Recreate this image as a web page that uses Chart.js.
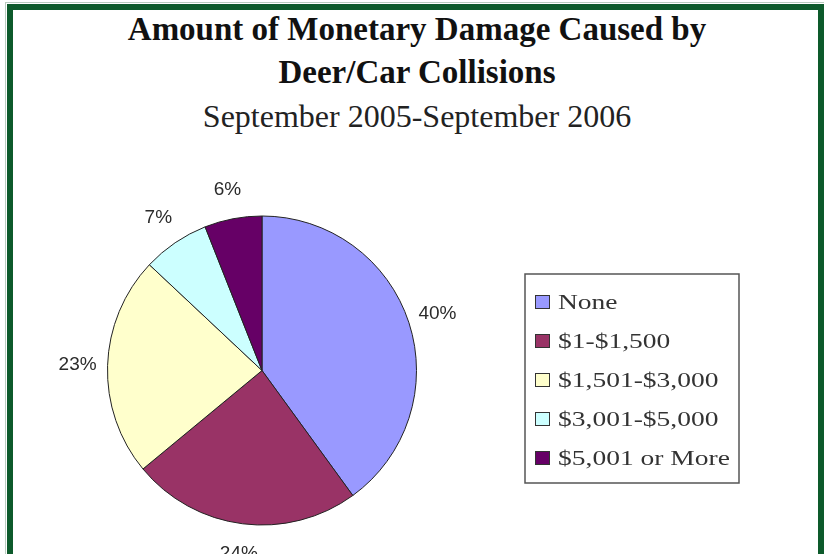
<!DOCTYPE html>
<html>
<head>
<meta charset="utf-8">
<title>Monetary Damage Caused by Deer/Car Collisions</title>
<script src="https://cdn.jsdelivr.net/npm/chart.js@4.4.1/dist/chart.umd.min.js"></script>
<style>
  html, body { margin: 0; padding: 0; background: #fff; overflow: hidden; }
  .wrap { position: relative; width: 824px; height: 554px; overflow: hidden; }
  .frame {
    position: absolute; left: 7px; top: 4px; width: 805px; height: 620px;
    border: 6px solid #0d5a2b; border-bottom: none;
    outline: 1px solid #b9ccbf; outline-offset: 1px;
  }
  .title {
    position: absolute; left: 10px; width: 814px; height: 43px; line-height: 43px;
    text-align: center; white-space: nowrap; color: #111;
    font-family: "Liberation Serif", "Times New Roman", serif; font-size: 32px;
  }
  .bold { font-weight: bold; font-size: 33px; }
  .chart-box { position: absolute; left: 0; top: 0; width: 824px; height: 554px; }
</style>
</head>
<body>
<div class="wrap">
  <div class="frame"></div>
  <div class="title bold" style="top: 8px;">Amount of Monetary Damage Caused by</div>
  <div class="title bold" style="top: 51px;">Deer/Car Collisions</div>
  <div class="title" style="top: 95px; color: #222;">September 2005-September 2006</div>
  <div class="chart-box"><canvas id="damageChart"></canvas></div>
</div>
<script>
const categories = ["None", "$1-$1,500", "$1,501-$3,000", "$3,001-$5,000", "$5,001 or More"];
const percentages = [40, 24, 23, 7, 6];
const sliceColors = ["#9999FF", "#993366", "#FFFFCC", "#CCFFFF", "#660066"];

// percent labels just outside each slice
const sliceLabels = {
  id: "sliceLabels",
  afterDatasetsDraw(chart) {
    const ctx = chart.ctx;
    const values = chart.data.datasets[0].data;
    ctx.save();
    ctx.font = '19px "Liberation Sans", Arial, sans-serif';
    ctx.fillStyle = "#2b2b2b";
    ctx.textAlign = "center";
    ctx.textBaseline = "middle";
    chart.getDatasetMeta(0).data.forEach((arc, i) => {
      const p = arc.getProps(["x", "y", "startAngle", "endAngle", "outerRadius"], true);
      const mid = (p.startAngle + p.endAngle) / 2;
      const r = p.outerRadius + 30;
      ctx.fillText(values[i] + "%", p.x + Math.cos(mid) * r, p.y + Math.sin(mid) * r);
    });
    ctx.restore();
  },
};

// boxed legend on the right, old spreadsheet style
const boxLegend = {
  id: "boxLegend",
  afterDraw(chart, args, opts) {
    const ctx = chart.ctx;
    const colors = chart.data.datasets[0].backgroundColor;
    ctx.save();
    ctx.strokeStyle = "#555";
    ctx.lineWidth = 1.5;
    ctx.strokeRect(opts.x, opts.y, opts.width, opts.height);
    chart.data.labels.forEach((label, i) => {
      const cy = opts.firstRow + i * opts.rowGap;
      ctx.fillStyle = colors[i];
      ctx.fillRect(opts.x + 10, cy - 7, 15, 14);
      ctx.strokeStyle = "#333";
      ctx.lineWidth = 1;
      ctx.strokeRect(opts.x + 10.5, cy - 6.5, 14, 13);
      ctx.save();
      ctx.translate(opts.x + 33, cy + 7);
      ctx.scale(1.25, 1);
      ctx.font = '22px "Liberation Serif", "Times New Roman", serif';
      ctx.fillStyle = "#333";
      ctx.textBaseline = "alphabetic";
      ctx.fillText(label, 0, 0);
      ctx.restore();
    });
    ctx.restore();
  },
};

new Chart(document.getElementById("damageChart").getContext("2d"), {
  type: "pie",
  data: {
    labels: categories,
    datasets: [
      {
        data: percentages,
        backgroundColor: sliceColors,
        borderColor: "#222",
        borderWidth: 1,
      },
    ],
  },
  options: {
    responsive: true,
    maintainAspectRatio: false,
    animation: false,
    layout: {
      padding: { top: 215, bottom: 28, left: 107, right: 407 },
    },
    plugins: {
      legend: { display: false },
      tooltip: { enabled: false },
      boxLegend: { x: 525, y: 274, width: 214, height: 209, firstRow: 302, rowGap: 39 },
    },
  },
  plugins: [sliceLabels, boxLegend],
});
</script>
</body>
</html>
